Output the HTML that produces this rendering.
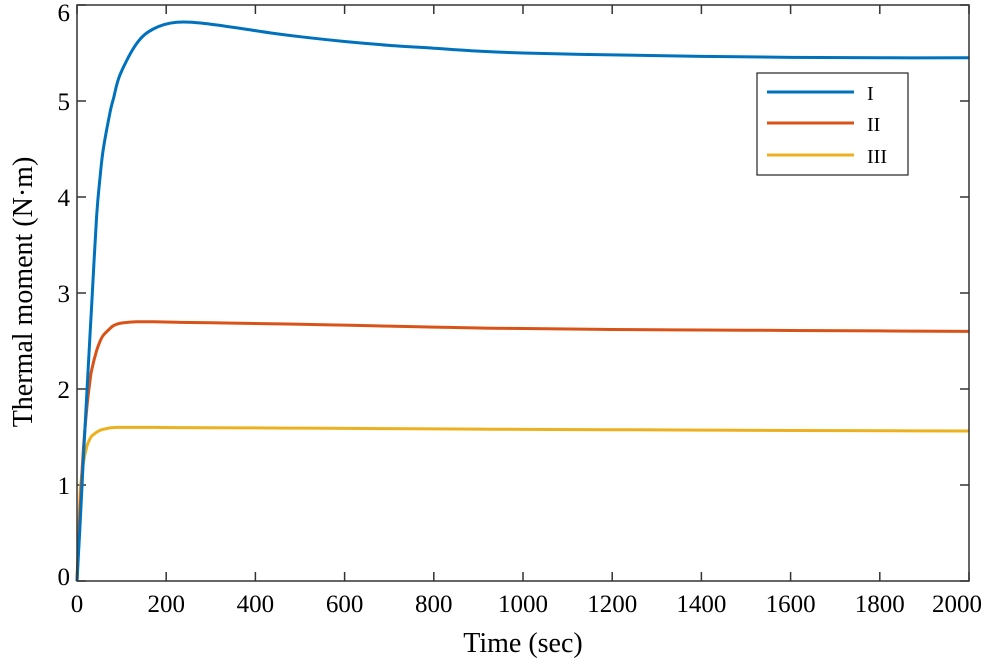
<!DOCTYPE html>
<html><head><meta charset="utf-8"><style>
body{margin:0;background:#fff;}
svg{display:block;font-family:"Liberation Serif",serif;}
</style></head><body>
<svg id="chart" width="990" height="668">
<g id="ticks"></g>
<g id="lines"></g>
<rect x="77" y="5" width="892" height="576" fill="none" stroke="#333" stroke-width="1.5"/>
<text x="523" y="652" font-size="28" text-anchor="middle">Time (sec)</text>
<text transform="translate(32,292) rotate(-90)" font-size="28" text-anchor="middle">Thermal moment (N·m)</text>
<g>
<rect x="757" y="73" width="151" height="102" fill="#fff" stroke="#222" stroke-width="1.2"/>
<line x1="767" y1="92" x2="854" y2="92" stroke="#0072BD" stroke-width="3"/>
<text x="867" y="100" font-size="20">I</text>
<line x1="767" y1="123" x2="854" y2="123" stroke="#D95319" stroke-width="3"/>
<text x="867" y="131" font-size="20">II</text>
<line x1="767" y1="155" x2="854" y2="155" stroke="#EDB120" stroke-width="3"/>
<text x="867" y="163" font-size="20">III</text>
</g>
</svg>
<script>
const times=[0,7,14,22,29,33,44,52,59,74,82,97,134,171,224,300,433,500,600,700,800,900,1000,1200,1400,1600,1800,2000];
const seriesI=[0,0.6,1.25,1.95,2.55,2.88,3.8,4.22,4.5,4.88,5.03,5.28,5.6,5.75,5.82,5.8,5.71,5.67,5.62,5.58,5.55,5.52,5.5,5.48,5.465,5.455,5.45,5.45];
const seriesII=[0,0.75,1.35,1.8,2.08,2.2,2.4,2.5,2.56,2.63,2.66,2.685,2.7,2.7,2.695,2.69,2.68,2.675,2.665,2.655,2.645,2.635,2.63,2.62,2.615,2.61,2.605,2.6];
const seriesIII=[0,0.9,1.22,1.4,1.48,1.51,1.55,1.57,1.58,1.595,1.598,1.6,1.6,1.6,1.598,1.596,1.594,1.592,1.59,1.587,1.585,1.582,1.58,1.576,1.572,1.568,1.565,1.562];
const xTicks=[0,200,400,600,800,1000,1200,1400,1600,1800,2000];
const yTicks=[0,1,2,3,4,5,6];
const X=v=>77+v/2000*892, Y=v=>581-v/6*576;
const NS="http://www.w3.org/2000/svg";
const tg=document.getElementById('ticks'), lg=document.getElementById('lines');
xTicks.forEach(t=>{
 const l=document.createElementNS(NS,'path');
 l.setAttribute('d',`M${X(t)},581v-9M${X(t)},5v9`);l.setAttribute('stroke','#333');l.setAttribute('stroke-width','1.5');
 
 
 tg.appendChild(l);
 const s=document.createElementNS(NS,'text');
 s.setAttribute('x',X(t)-(t==2000?12:0));s.setAttribute('y',612);s.setAttribute('font-size','25');s.setAttribute('text-anchor','middle');s.textContent=t;
 
 
 tg.appendChild(s);
});
yTicks.forEach(t=>{
 const l=document.createElementNS(NS,'path');
 l.setAttribute('d',`M77,${Y(t)}h9M969,${Y(t)}h-9`);l.setAttribute('stroke','#333');l.setAttribute('stroke-width','1.5');
 
 
 tg.appendChild(l);
 const s=document.createElementNS(NS,'text');
 s.setAttribute('x',70);s.setAttribute('y',Y(t)+9+(t==6?7:0)-(t==0?5:0));s.setAttribute('font-size','25');s.setAttribute('text-anchor','end');s.textContent=t;
 
 
 tg.appendChild(s);
});
[[seriesIII,'#EDB120','series-iii'],[seriesII,'#D95319','series-ii'],[seriesI,'#0072BD','series-i']].forEach(([d,c,n])=>{
 const p=document.createElementNS(NS,'path');
 let pts=times.map((t,i)=>[X(t),Y(d[i])]);
 let s=`M${pts[0][0]},${pts[0][1]}`;
 for(let i=0;i<pts.length-1;i++){
  const p0=pts[i-1]||pts[i],p1=pts[i],p2=pts[i+1],p3=pts[i+2]||p2;
  s+=`C${p1[0]+(p2[0]-p0[0])/6},${p1[1]+(p2[1]-p0[1])/6} ${p2[0]-(p3[0]-p1[0])/6},${p2[1]-(p3[1]-p1[1])/6} ${p2[0]},${p2[1]}`;
 }
 p.setAttribute('d',s);p.setAttribute('fill','none');p.setAttribute('stroke',c);p.setAttribute('stroke-width','3');
 
 
 lg.appendChild(p);
});
</script>
</body></html>
